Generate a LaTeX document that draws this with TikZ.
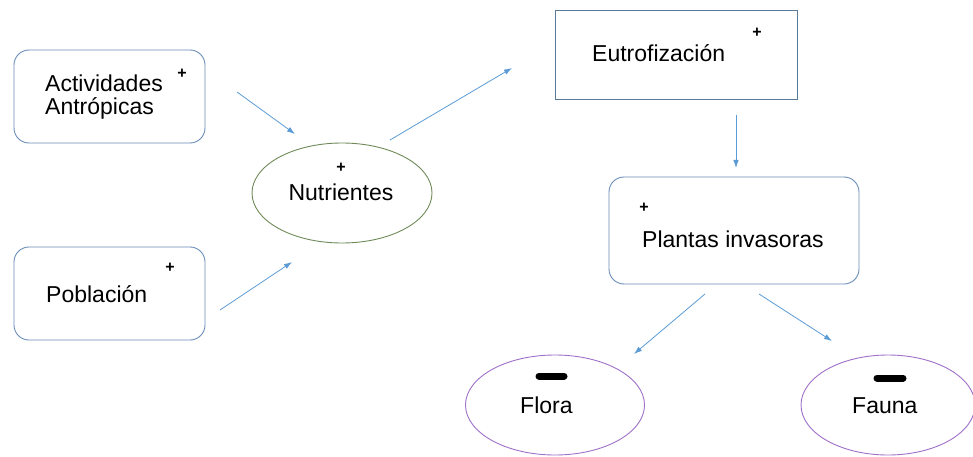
\documentclass[tikz,border=0pt]{standalone}
\usepackage{fontspec}
\setmainfont{Liberation Sans}
\usetikzlibrary{arrows.meta,shapes.geometric}
\definecolor{boxblue}{HTML}{6A8CB8}
\definecolor{rectblue}{HTML}{5A7A9A}
\definecolor{olive}{HTML}{6F8A58}
\definecolor{lilac}{HTML}{A070C8}
\definecolor{arrowblue}{HTML}{5B9BD5}
\begin{document}
\begin{tikzpicture}[x=1pt,y=-1pt,
    rbox/.style={draw=boxblue,line width=0.9pt,rounded corners=15pt,inner sep=0pt},
    sbox/.style={draw=rectblue,line width=0.9pt,inner sep=0pt},
    oval/.style={ellipse,line width=0.9pt,inner sep=0pt,minimum height=100pt},
    txt/.style={inner sep=0pt,font=\fontsize{23}{22.5}\selectfont},
    sign/.style={inner sep=0pt,font=\fontsize{16}{16}\selectfont\bfseries},
    link/.style={draw=arrowblue,line width=0.8pt,-{Latex[length=8pt,width=5.5pt]}},
    bar/.style={line width=7pt,line cap=round}]
  \useasboundingbox (0,0) rectangle (973,457);

  \node [rbox,minimum width=191pt,minimum height=93pt] (act) at (109.5,96.5) {};
  \node [rbox,minimum width=191pt,minimum height=93pt] (pob) at (109.5,293.5) {};
  \node [sbox,minimum width=242pt,minimum height=89pt] (eut) at (676,54.5) {};
  \node [rbox,minimum width=250pt,minimum height=107pt] (pla) at (734,230.5) {};
  \node [oval,draw=olive,minimum width=180pt] (nut) at (342,193) {};
  \node [oval,draw=lilac,minimum width=179pt] (flo) at (555,405) {};
  \node [oval,draw=lilac,minimum width=174pt] (fau) at (888,405) {};

  \node [txt,anchor=west,align=left] (actt) at (45,97) {Actividades\\Antrópicas};
  \node [txt,anchor=base west] (pobt) at (46,302) {Población};
  \node [txt,anchor=base] (nutt) at (341,200) {Nutrientes};
  \node [txt,anchor=base west] (eutt) at (592,62) {Eutrofización};
  \node [txt,anchor=base west] (plat) at (642,247) {Plantas invasoras};
  \node [txt,anchor=base west] (flot) at (520,413) {Flora};
  \node [txt,anchor=base west] (faut) at (852,413) {Fauna};

  \node [sign] (acts) at (182,74) {+};
  \node [sign] (pobs) at (170,268) {+};
  \node [sign] (nuts) at (341,168) {+};
  \node [sign] (euts) at (757,33) {+};
  \node [sign] (plas) at (644,208) {+};
  \draw [bar] (539,376) -- (564,376);
  \draw [bar] (877,378) -- (903,378);

  \coordinate (a1) at (237,92);   \coordinate (a2) at (295,134);
  \coordinate (b1) at (220,310);  \coordinate (b2) at (292,262);
  \coordinate (c1) at (390,140);  \coordinate (c2) at (512,68);
  \coordinate (d1) at (736,115);  \coordinate (d2) at (736,168);
  \coordinate (e1) at (705,294);  \coordinate (e2) at (634,354);
  \coordinate (f1) at (759,294);  \coordinate (f2) at (832,341);
  \draw [link] (a1) -- (a2);
  \draw [link] (b1) -- (b2);
  \draw [link] (c1) -- (c2);
  \draw [link] (d1) -- (d2);
  \draw [link] (e1) -- (e2);
  \draw [link] (f1) -- (f2);
\end{tikzpicture}
\end{document}
